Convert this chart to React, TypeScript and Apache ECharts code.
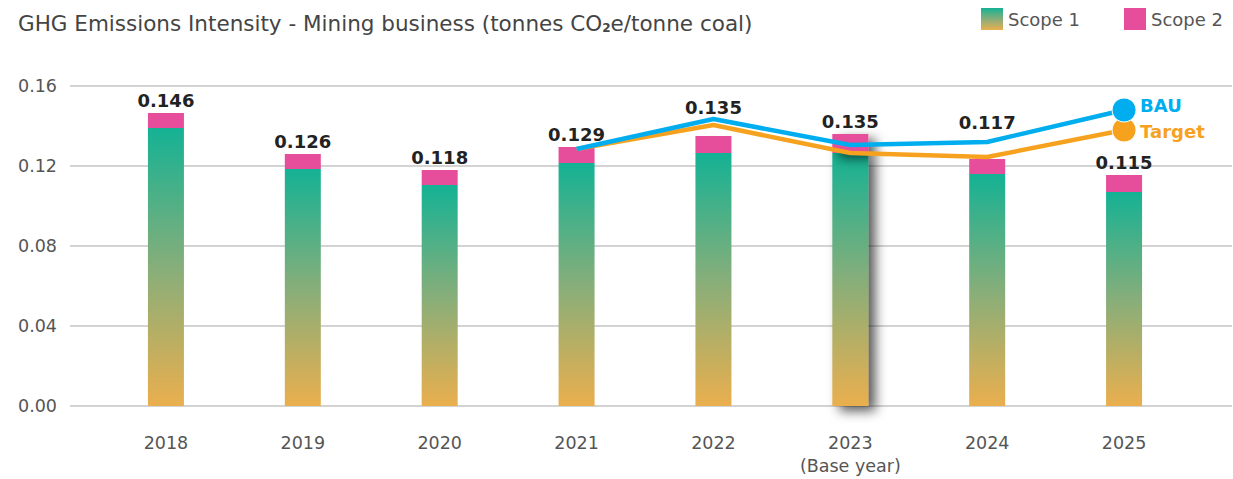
import React, { useEffect, useRef } from "react";
import * as echarts from "echarts";

const years = ["2018", "2019", "2020", "2021", "2022", "2023", "2024", "2025"];
const yearLabels = ["2018", "2019", "2020", "2021", "2022", "2023\n(Base year)", "2024", "2025"];
const scope1 = [0.139, 0.1185, 0.1105, 0.1215, 0.1265, 0.1265, 0.116, 0.107];
const scope2 = [0.0075, 0.0075, 0.0075, 0.008, 0.0085, 0.0095, 0.0075, 0.0085];
const totalLabels = ["0.146", "0.126", "0.118", "0.129", "0.135", "0.135", "0.117", "0.115"];
const bau = [null, null, null, 0.1285, 0.1435, 0.1305, 0.132, 0.148];
const target = [null, null, null, 0.1285, 0.1405, 0.1265, 0.1245, 0.138];
const yTicks = [0, 0.04, 0.08, 0.12, 0.16];

const FONT = "'DejaVu Sans', 'Noto Sans', sans-serif";

export default function App() {
  const ref = useRef<HTMLDivElement>(null);
  useEffect(() => {
    if (!ref.current) return;
    document.body.style.margin = "0";
    const chart = echarts.init(ref.current, null, { renderer: "svg" });
    const lift: Record<number, number> = { 4: 16, 6: 24 };
    const baseIdx = 5;
    const shadow = {
      shadowBlur: 12,
      shadowColor: "rgba(0,0,0,0.65)",
      shadowOffsetX: 7,
      shadowOffsetY: 5,
    };
    const grad = new echarts.graphic.LinearGradient(0, 0, 0, 1, [
      { offset: 0, color: "#14B294" },
      { offset: 0.5, color: "#86AE7A" },
      { offset: 1, color: "#EAAF4E" },
    ]);
    const lastIdx = years.length - 1;
    const lineSeries = (name: string, data: (number | null)[], color: string, labelOffset: number[]) => ({
      name,
      type: "line",
      xAxisIndex: 1,
      yAxisIndex: 1,
      data,
      z: name === "BAU" ? 6 : 5,
      symbol: (_v: any, p: any) => (p.dataIndex === lastIdx ? "circle" : "none"),
      symbolSize: 24,
      itemStyle: { color, borderColor: "#fff", borderWidth: 1 },
      lineStyle: { color, width: 4.5 },
      endLabel: {
        show: true,
        formatter: name,
        color,
        fontFamily: FONT,
        fontWeight: "bold",
        fontSize: 18,
        distance: 16,
        offset: labelOffset,
      },
      emphasis: { disabled: true },
    });
    chart.setOption({
      animation: false,
      title: {
        left: 18,
        top: 12,
        padding: 0,
        text: "{a|GHG Emissions Intensity - Mining business (tonnes CO}{s|2}{a|e/tonne coal)}",
        textStyle: {
          rich: {
            a: { fontFamily: FONT, fontSize: 21.5, color: "#444", fontWeight: "normal" },
            s: { fontFamily: FONT, fontSize: 12, color: "#444", verticalAlign: "bottom", padding: [10, 0, 0, 0] },
          },
        },
      },
      legend: {
        right: 5,
        top: 3,
        itemWidth: 22,
        itemHeight: 22,
        itemGap: 44,
        itemStyle: { borderWidth: 0 },
        icon: "rect",
        data: ["Scope 1", "Scope 2"],
        textStyle: { fontFamily: FONT, fontSize: 18, color: "#555" },
      },
      grid: [
        { left: 70, right: 1, top: 86, bottom: 73 },
        { left: 97.5, right: 40.5, top: 86, bottom: 73 },
      ],
      xAxis: [
        { type: "category", gridIndex: 0, data: years, show: false },
        {
          type: "category",
          gridIndex: 1,
          data: yearLabels,
          axisLine: { show: false },
          axisTick: { show: false },
          axisLabel: { fontFamily: FONT, fontSize: 17.5, color: "#555", margin: 25, lineHeight: 23 },
        },
      ],
      yAxis: [
        {
          type: "value",
          gridIndex: 0,
          min: 0,
          max: 0.16,
          interval: 0.04,
          axisLine: { show: false },
          axisTick: { show: false },
          splitLine: { lineStyle: { color: "#c4c4c4", width: 1.5 } },
          axisLabel: {
            fontFamily: FONT,
            fontSize: 17.5,
            color: "#555",
            margin: 13,
            formatter: (v: number) => {
              const i = yTicks.findIndex((t) => Math.abs(t - v) < 1e-9);
              return i >= 0 ? yTicks[i].toFixed(2) : "";
            },
          },
        },
        { type: "value", gridIndex: 1, min: 0, max: 0.16, interval: 0.04, show: false },
      ],
      series: [
        {
          name: "Scope 1",
          type: "bar",
          stack: "s",
          xAxisIndex: 1,
          yAxisIndex: 1,
          barWidth: 36,
          itemStyle: { color: grad },
          data: scope1.map((v, i) => (i === baseIdx ? { value: v, itemStyle: { color: grad, ...shadow } } : v)),
          emphasis: { disabled: true },
        },
        {
          name: "Scope 2",
          type: "bar",
          stack: "s",
          xAxisIndex: 1,
          yAxisIndex: 1,
          barWidth: 36,
          itemStyle: { color: "#E64E9B" },
          data: scope2.map((v, i) => ({
            value: v,
            itemStyle: i === baseIdx ? { color: "#E64E9B", ...shadow } : undefined,
            label: {
              show: true,
              position: "top",
              distance: 4,
              offset: [0, -(lift[i] || 0)],
              formatter: totalLabels[i],
              fontFamily: FONT,
              fontWeight: "bold",
              fontSize: 18,
              color: "#222",
            },
          })),
          emphasis: { disabled: true },
        },
        lineSeries("Target", target, "#F7A21E", [0, 1]),
        lineSeries("BAU", bau, "#00AEEF", [0, -5]),
      ],
    });
    return () => chart.dispose();
  }, []);
  return <div ref={ref} style={{ width: 1233, height: 479 }} />;
}
